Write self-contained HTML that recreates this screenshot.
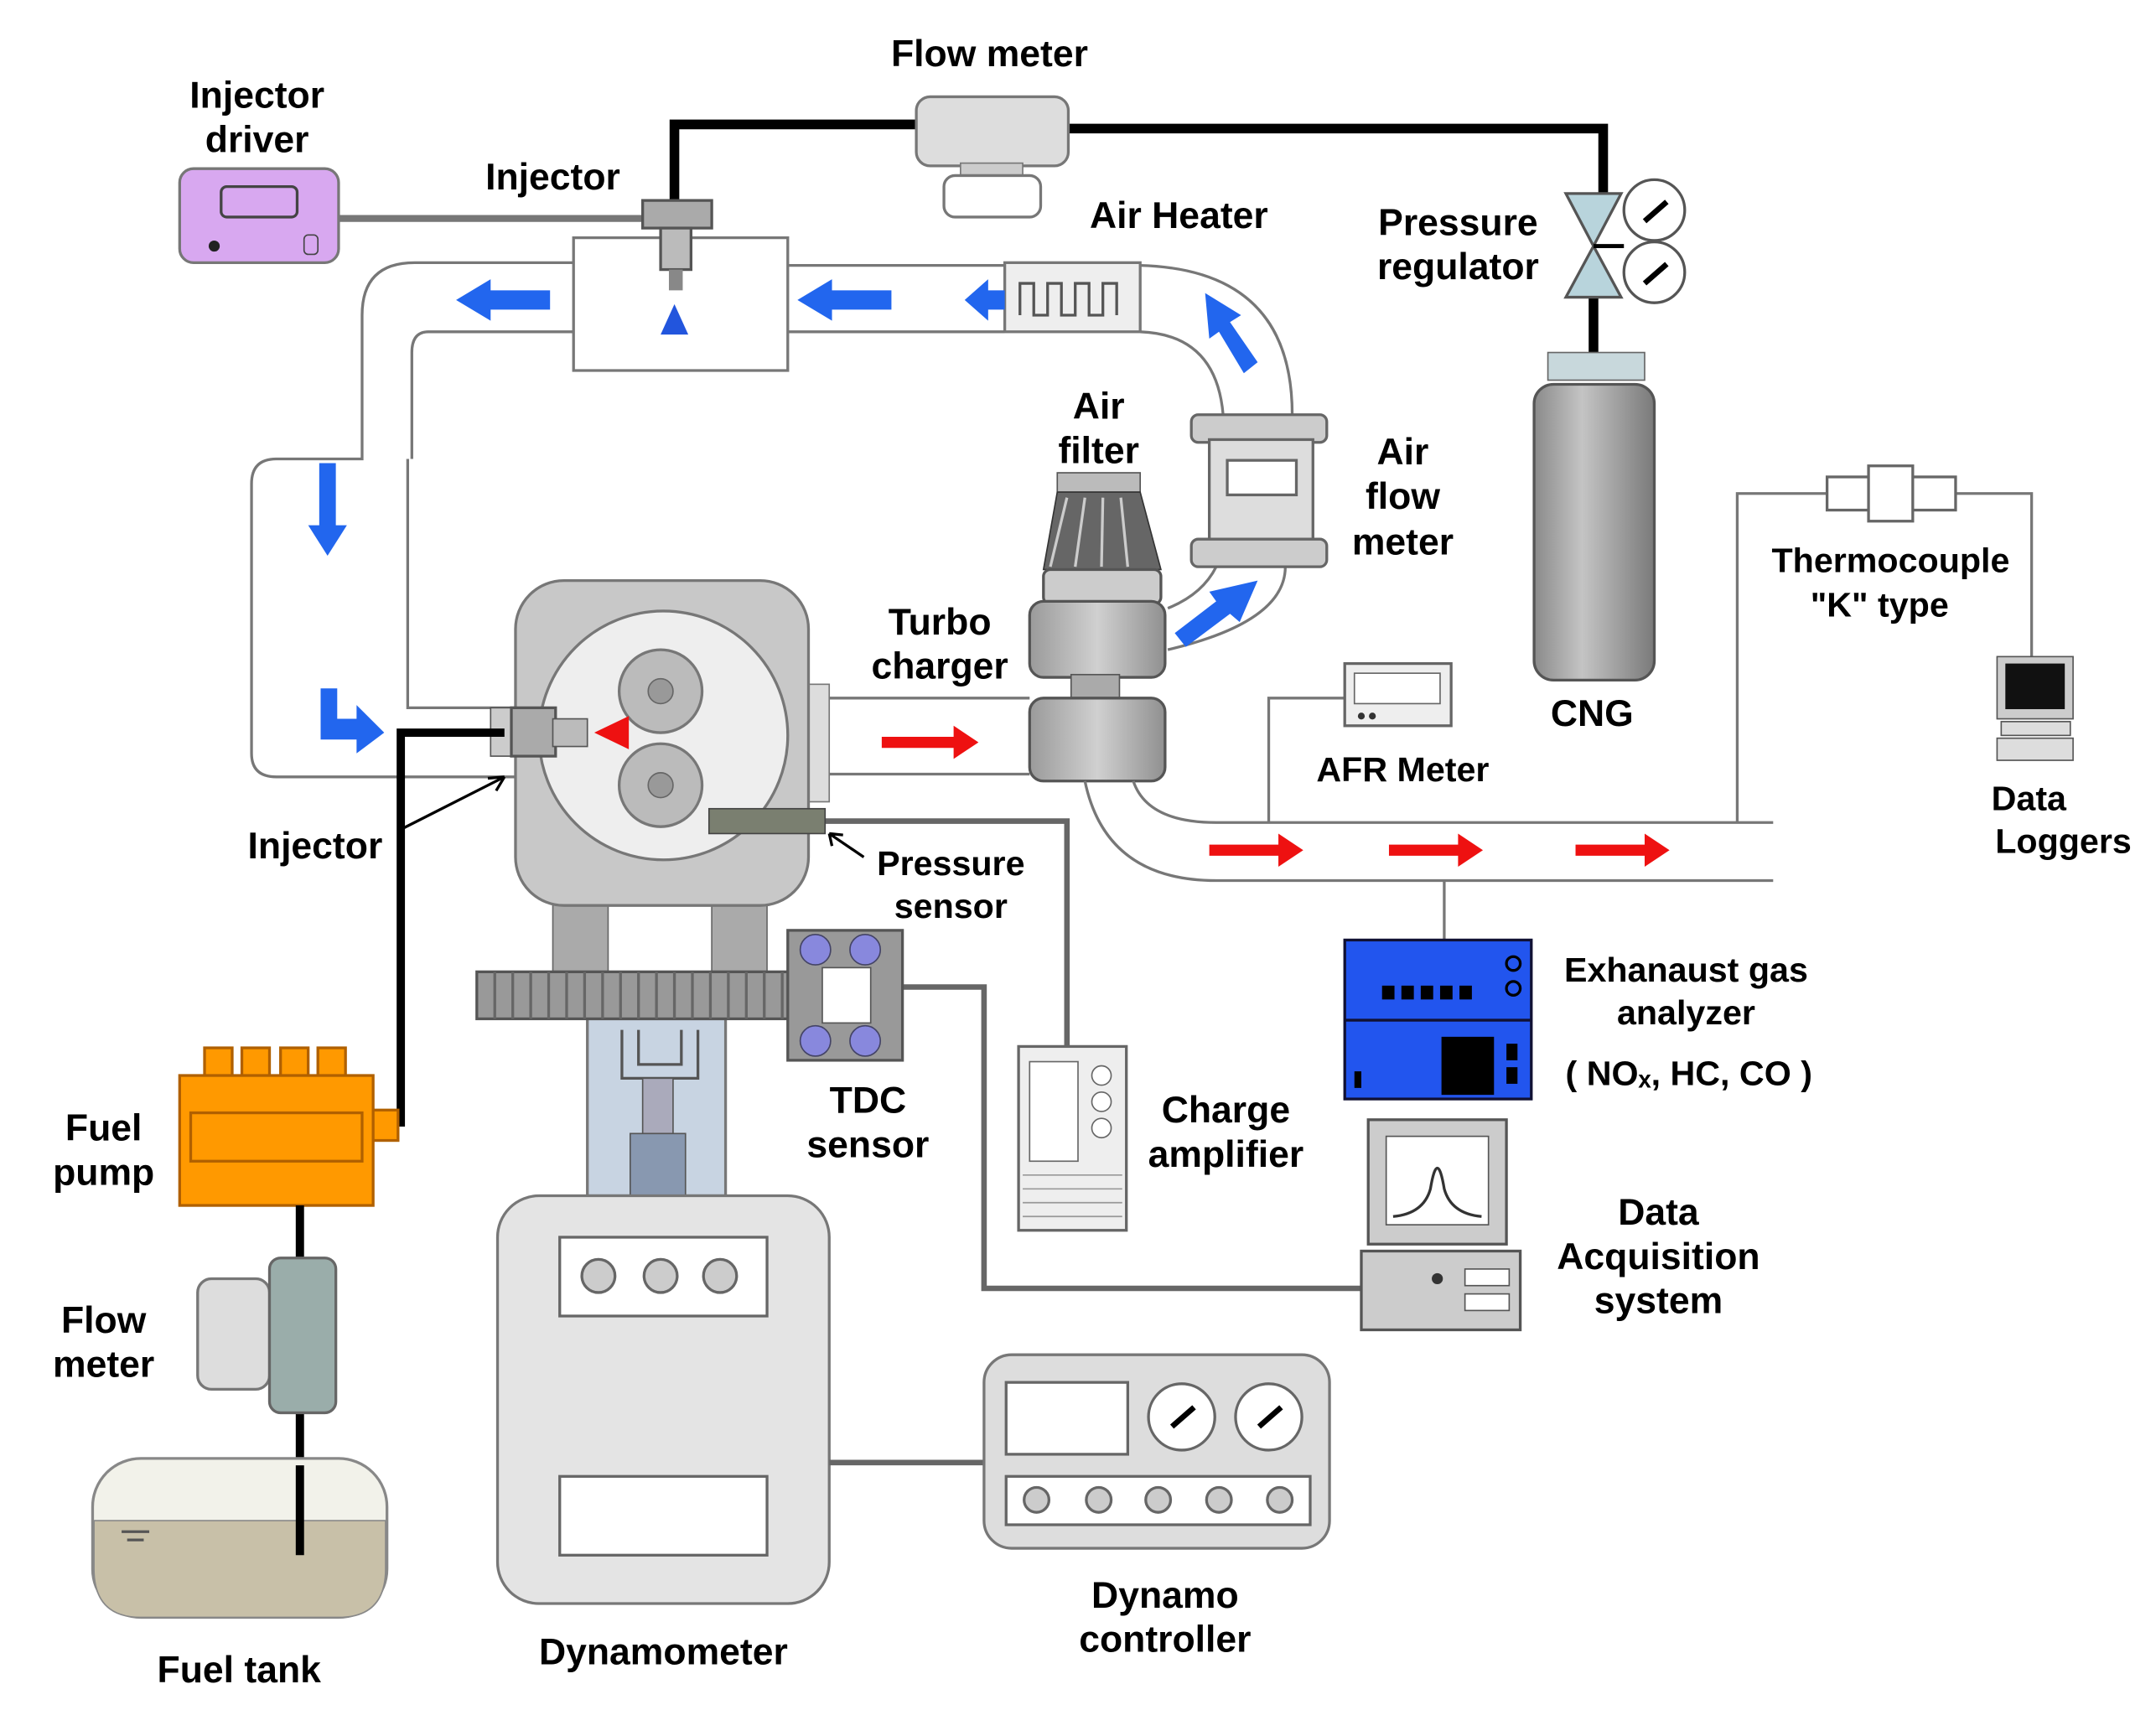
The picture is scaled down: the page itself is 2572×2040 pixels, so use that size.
<!DOCTYPE html>
<html><head><meta charset="utf-8"><style>html,body{margin:0;padding:0;background:#fff}svg{display:block}</style></head>
<body>
<svg width="2572" height="2040" viewBox="0 0 1560 1237" preserveAspectRatio="none" xmlns="http://www.w3.org/2000/svg" font-family="Liberation Sans, sans-serif" font-weight="bold" font-size="27" text-anchor="middle">
<defs>
<linearGradient id="cyl" x1="0" x2="1"><stop offset="0" stop-color="#8a8a8a"/><stop offset="0.4" stop-color="#c4c4c4"/><stop offset="1" stop-color="#7a7a7a"/></linearGradient>
<linearGradient id="gr" x1="0" x2="1"><stop offset="0" stop-color="#9a9a9a"/><stop offset="0.5" stop-color="#d0d0d0"/><stop offset="1" stop-color="#909090"/></linearGradient>
</defs>
<rect width="1560" height="1237" fill="#fff"/>
<path d="M488 145 V90 H663 M773 93 H1160 V140 M1153 215 V262" stroke="#000" stroke-width="7" fill="none"/>
<rect x="663" y="70" width="110" height="50" rx="10" fill="#ddd" stroke="#777" stroke-width="2"/>
<rect x="695" y="118" width="45" height="10" fill="#ccc" stroke="#777"/>
<rect x="683" y="127" width="70" height="30" rx="8" fill="#fff" stroke="#777" stroke-width="2"/>
<text x="716" y="48">Flow meter</text>
<path d="M1133 140 L1173 140 L1153 178 Z M1133 215 L1173 215 L1153 178 Z" fill="#b8d4dc" stroke="#555" stroke-width="2"/>
<circle cx="1197" cy="152" r="22" fill="#fff" stroke="#555" stroke-width="2"/>
<circle cx="1197" cy="197" r="22" fill="#fff" stroke="#555" stroke-width="2"/>
<path d="M1190 160 L1206 146 M1190 205 L1206 191" stroke="#000" stroke-width="4"/>
<path d="M1153 178 H1175" stroke="#000" stroke-width="3"/>
<text x="1055" y="170">Pressure</text><text x="1055" y="202">regulator</text>
<rect x="1120" y="255" width="70" height="20" fill="#c8d8dc" stroke="#666"/>
<rect x="1110" y="278" width="87" height="214" rx="14" fill="url(#cyl)" stroke="#555" stroke-width="2"/>
<text x="1152" y="525">CNG</text>
<line x1="245" y1="158" x2="470" y2="158" stroke="#777" stroke-width="5"/>
<rect x="130" y="122" width="115" height="68" rx="10" fill="#d8a8f0" stroke="#777" stroke-width="2"/>
<rect x="160" y="135" width="55" height="22" rx="4" fill="none" stroke="#444" stroke-width="2"/>
<circle cx="155" cy="178" r="4" fill="#222"/><rect x="220" y="170" width="10" height="14" rx="3" fill="none" stroke="#444"/>
<text x="186" y="78">Injector</text><text x="186" y="110">driver</text>
<path d="M415 190 H300 Q262 190 262 228 V332 H200 Q182 332 182 350 V545 Q182 562 200 562 H373 M415 240 H310 Q298 240 298 255 V332 M295 332 Q295 332 295 345 V512 H373" stroke="#777" stroke-width="2" fill="none"/>
<path d="M415 172 H570 V268 H415 Z" fill="#fff" stroke="#777" stroke-width="2"/>
<path d="M570 192 H727 M570 240 H727 M825 192 Q935 195 935 300 M825 240 Q880 242 885 300 M930 410 Q930 450 845 470 M880 410 Q870 430 845 440" stroke="#777" stroke-width="2" fill="none"/>
<rect x="465" y="145" width="50" height="20" fill="#aaa" stroke="#555" stroke-width="2"/>
<rect x="478" y="165" width="22" height="30" fill="#bbb" stroke="#555" stroke-width="2"/>
<path d="M484 195 h10 v15 h-10z" fill="#888"/>
<path d="M478 242 L488 220 L498 242 Z" fill="#2255dd"/>
<text x="400" y="137">Injector</text>
<rect x="727" y="190" width="98" height="50" fill="#eee" stroke="#777" stroke-width="2"/>
<path d="M738 228 V205 h10 v23 h10 v-23 h10 v23 h10 v-23 h10 v23 h10 v-23 h10 v23" stroke="#555" stroke-width="2" fill="none"/>
<text x="853" y="165">Air Heater</text>
<g fill="#2266ee">
<path d="M398 210 H355 V202 L330 217 L355 232 V224 H398Z"/>
<path d="M645 210 H602 V202 L577 217 L602 232 V224 H645Z"/>
<path d="M727 210 H715 V202 L698 217 L715 232 V224 H727Z"/>
<path d="M900 270 L882 240 L875 245 L872 212 L898 228 L890 233 L910 262Z"/>
<path d="M231 335 H243 V380 H251 L237 402 L223 380 H231Z"/>
<path d="M232 498 H244 V520 H258 V510 L278 530 L258 545 V535 H232Z"/>
<path d="M850 458 L880 435 L875 428 L910 420 L897 450 L890 444 L858 468Z"/>
</g>
<rect x="765" y="342" width="60" height="14" fill="#bbb" stroke="#555"/>
<path d="M765 356 L825 356 L840 412 L755 412 Z" fill="#666" stroke="#333"/>
<path d="M772 360 L760 410 M785 360 L778 410 M798 360 L797 410 M811 360 L816 410" stroke="#ccc" stroke-width="2"/>
<rect x="755" y="412" width="85" height="25" rx="5" fill="#ccc" stroke="#555" stroke-width="2"/>
<text x="795" y="303">Air</text><text x="795" y="335">filter</text>
<rect x="862" y="300" width="98" height="20" rx="5" fill="#ccc" stroke="#666" stroke-width="2"/>
<rect x="875" y="318" width="75" height="75" fill="#ddd" stroke="#666" stroke-width="2"/>
<rect x="888" y="333" width="50" height="25" fill="#fff" stroke="#666" stroke-width="2"/>
<rect x="862" y="390" width="98" height="20" rx="5" fill="#ccc" stroke="#666" stroke-width="2"/>
<text x="1015" y="336">Air</text><text x="1015" y="368">flow</text><text x="1015" y="401">meter</text>
<rect x="745" y="435" width="98" height="55" rx="10" fill="url(#gr)" stroke="#555" stroke-width="2"/>
<rect x="775" y="488" width="35" height="20" fill="#aaa" stroke="#555"/>
<rect x="745" y="505" width="98" height="60" rx="10" fill="url(#gr)" stroke="#555" stroke-width="2"/>
<text x="680" y="459">Turbo</text><text x="680" y="491">charger</text>
<path d="M600 505 H745 M600 560 H745 M820 565 Q830 595 880 595 H1283 M785 565 Q800 637 880 637 H1283" stroke="#777" stroke-width="2" fill="none"/>
<g fill="#ee1111">
<path d="M638 533 H690 V525 L708 537 L690 549 V541 H638Z"/>
<path d="M875 611 H925 V603 L943 615 L925 627 V619 H875Z"/>
<path d="M1005 611 H1055 V603 L1073 615 L1055 627 V619 H1005Z"/>
<path d="M1140 611 H1190 V603 L1208 615 L1190 627 V619 H1140Z"/>
</g>
<path d="M918 595 V505 H973" stroke="#777" stroke-width="2" fill="none"/>
<rect x="973" y="480" width="77" height="45" fill="#eee" stroke="#666" stroke-width="2"/>
<rect x="980" y="487" width="62" height="22" fill="#fff" stroke="#666"/>
<circle cx="985" cy="518" r="2.5" fill="#333"/><circle cx="993" cy="518" r="2.5" fill="#333"/>
<text x="1015" y="565" font-size="25">AFR Meter</text>
<path d="M1257 595 V357 H1322 M1415 357 H1470 V475" stroke="#777" stroke-width="2" fill="none"/>
<rect x="1322" y="345" width="93" height="24" fill="#fff" stroke="#666" stroke-width="2"/>
<rect x="1352" y="337" width="32" height="40" fill="#fff" stroke="#666" stroke-width="2"/>
<text x="1368" y="414" font-size="25">Thermocouple</text><text x="1360" y="446" font-size="25">"K" type</text>
<rect x="1445" y="475" width="55" height="45" fill="#ccc" stroke="#555"/>
<rect x="1451" y="480" width="43" height="33" fill="#111"/>
<rect x="1448" y="522" width="50" height="10" fill="#ddd" stroke="#555"/>
<rect x="1445" y="534" width="55" height="16" fill="#ddd" stroke="#555"/>
<text x="1468" y="586" font-size="25">Data</text><text x="1493" y="617" font-size="25">Loggers</text>
<path d="M1045 637 V680" stroke="#777" stroke-width="2"/>
<rect x="973" y="680" width="135" height="115" fill="#2255ee" stroke="#113" stroke-width="2"/>
<line x1="973" y1="738" x2="1108" y2="738" stroke="#113" stroke-width="2"/>
<g fill="#000"><rect x="1000" y="713" width="9" height="10"/><rect x="1014" y="713" width="9" height="10"/><rect x="1028" y="713" width="9" height="10"/><rect x="1042" y="713" width="9" height="10"/><rect x="1056" y="713" width="9" height="10"/>
<rect x="1043" y="750" width="38" height="42"/><rect x="1090" y="755" width="8" height="12"/><rect x="1090" y="772" width="8" height="12"/><rect x="980" y="775" width="5" height="12"/></g>
<circle cx="1095" cy="697" r="5" fill="none" stroke="#000" stroke-width="2"/><circle cx="1095" cy="715" r="5" fill="none" stroke="#000" stroke-width="2"/>
<text x="1220" y="710" font-size="25">Exhanaust gas</text><text x="1220" y="741" font-size="25">analyzer</text>
<text x="1222" y="785" font-size="25">( NOₓ, HC, CO )</text>
<rect x="355" y="512" width="22" height="35" fill="#ccc" stroke="#555"/>
<rect x="578" y="495" width="22" height="85" fill="#ddd" stroke="#777"/>
<rect x="400" y="650" width="40" height="55" fill="#aaa" stroke="#666"/>
<rect x="515" y="650" width="40" height="55" fill="#aaa" stroke="#666"/>
<rect x="373" y="420" width="212" height="235" rx="35" fill="#c8c8c8" stroke="#777" stroke-width="2"/>
<circle cx="480" cy="532" r="90" fill="#eee" stroke="#777" stroke-width="2"/>
<circle cx="478" cy="500" r="30" fill="#bbb" stroke="#777" stroke-width="2"/><circle cx="478" cy="500" r="9" fill="#999" stroke="#666"/>
<circle cx="478" cy="568" r="30" fill="#bbb" stroke="#777" stroke-width="2"/><circle cx="478" cy="568" r="9" fill="#999" stroke="#666"/>
<rect x="370" y="512" width="32" height="35" fill="#aaa" stroke="#555" stroke-width="2"/>
<rect x="400" y="520" width="25" height="20" fill="#bbb" stroke="#555"/>
<path d="M430 530 L455 518 L455 542 Z" fill="#ee1111"/>
<path d="M597 594 H772 V757" stroke="#666" stroke-width="4" fill="none"/>
<rect x="513" y="585" width="84" height="18" fill="#7a7f70" stroke="#444"/>
<path d="M625 620 L600 603 M600 603 l10 1 M600 603 l2 9" stroke="#000" stroke-width="2"/>
<text x="688" y="633" font-size="25">Pressure</text><text x="688" y="664" font-size="25">sensor</text>
<rect x="737" y="757" width="78" height="133" fill="#eee" stroke="#666" stroke-width="2"/>
<rect x="745" y="768" width="35" height="72" fill="#fff" stroke="#666"/>
<circle cx="797" cy="778" r="7" fill="#fff" stroke="#666"/><circle cx="797" cy="797" r="7" fill="#fff" stroke="#666"/><circle cx="797" cy="816" r="7" fill="#fff" stroke="#666"/>
<path d="M740 850 H812 M740 860 H812 M740 870 H812 M740 880 H812" stroke="#999"/>
<text x="887" y="812">Charge</text><text x="887" y="844">amplifier</text>
<path d="M290 815 V530 H365" stroke="#000" stroke-width="6" fill="none"/>
<path d="M290 600 L365 562 M365 562 l-12 1 M365 562 l-6 10" stroke="#000" stroke-width="2"/>
<text x="228" y="621">Injector</text>
<path d="M653 714 H712 V932 H990" stroke="#666" stroke-width="4" fill="none"/>
<rect x="425" y="737" width="100" height="128" fill="#c8d4e2" stroke="#777" stroke-width="2"/>
<path d="M450 745 V780 H505 V745 M462 745 V770 H493 V745" stroke="#555" stroke-width="2" fill="none"/>
<rect x="465" y="780" width="22" height="40" fill="#aab" stroke="#555"/>
<rect x="456" y="820" width="40" height="45" fill="#8898b0" stroke="#555"/>
<rect x="345" y="703" width="305" height="34" fill="#999" stroke="#555" stroke-width="2"/>
<path d="M358 703 V737 M371 703 V737 M384 703 V737 M397 703 V737 M410 703 V737 M423 703 V737 M436 703 V737 M449 703 V737 M462 703 V737 M475 703 V737 M488 703 V737 M501 703 V737 M514 703 V737 M527 703 V737 M540 703 V737 M553 703 V737 M566 703 V737 M579 703 V737 M592 703 V737" stroke="#666" stroke-width="2"/>
<rect x="570" y="673" width="83" height="94" fill="#999" stroke="#555" stroke-width="2"/>
<rect x="595" y="700" width="35" height="40" fill="#fff" stroke="#555"/>
<g fill="#8888dd" stroke="#446"><circle cx="590" cy="687" r="11"/><circle cx="626" cy="687" r="11"/><circle cx="590" cy="753" r="11"/><circle cx="626" cy="753" r="11"/></g>
<text x="628" y="805">TDC</text><text x="628" y="837">sensor</text>
<rect x="360" y="865" width="240" height="295" rx="30" fill="#e4e4e4" stroke="#777" stroke-width="2"/>
<rect x="405" y="895" width="150" height="57" fill="#fff" stroke="#666" stroke-width="2"/>
<circle cx="433" cy="923" r="12" fill="#ccc" stroke="#666" stroke-width="2"/><circle cx="478" cy="923" r="12" fill="#ccc" stroke="#666" stroke-width="2"/><circle cx="521" cy="923" r="12" fill="#ccc" stroke="#666" stroke-width="2"/>
<rect x="405" y="1068" width="150" height="57" fill="#fff" stroke="#666" stroke-width="2"/>
<text x="480" y="1204">Dynamometer</text>
<line x1="600" y1="1058" x2="712" y2="1058" stroke="#666" stroke-width="4"/>
<rect x="712" y="980" width="250" height="140" rx="20" fill="#ddd" stroke="#777" stroke-width="2"/>
<rect x="728" y="1000" width="88" height="52" fill="#fff" stroke="#666" stroke-width="2"/>
<circle cx="855" cy="1025" r="24" fill="#fff" stroke="#666" stroke-width="2"/><circle cx="918" cy="1025" r="24" fill="#fff" stroke="#666" stroke-width="2"/>
<path d="M848 1032 L864 1018 M911 1032 L927 1018" stroke="#000" stroke-width="4"/>
<rect x="728" y="1068" width="220" height="35" fill="#fff" stroke="#666" stroke-width="2"/>
<g fill="#ccc" stroke="#666" stroke-width="2"><circle cx="750" cy="1085" r="9"/><circle cx="795" cy="1085" r="9"/><circle cx="838" cy="1085" r="9"/><circle cx="882" cy="1085" r="9"/><circle cx="926" cy="1085" r="9"/></g>
<text x="843" y="1163">Dynamo</text><text x="843" y="1195">controller</text>
<rect x="990" y="810" width="100" height="90" fill="#ccc" stroke="#555" stroke-width="2"/>
<rect x="1003" y="822" width="74" height="64" fill="#fff" stroke="#555"/>
<path d="M1008 880 Q1030 878 1035 860 Q1040 830 1045 860 Q1050 878 1072 880" stroke="#333" stroke-width="2" fill="none"/>
<rect x="985" y="905" width="115" height="57" fill="#ccc" stroke="#555" stroke-width="2"/>
<circle cx="1040" cy="925" r="4" fill="#333"/><rect x="1060" y="918" width="32" height="12" fill="#fff" stroke="#555"/><rect x="1060" y="936" width="32" height="12" fill="#fff" stroke="#555"/>
<text x="1200" y="886">Data</text><text x="1200" y="918">Acquisition</text><text x="1200" y="950">system</text>
<g fill="#ff9900" stroke="#b06000" stroke-width="2"><rect x="148" y="758" width="20" height="22"/><rect x="175" y="758" width="20" height="22"/><rect x="203" y="758" width="20" height="22"/><rect x="230" y="758" width="20" height="22"/>
<rect x="130" y="778" width="140" height="94"/><rect x="270" y="803" width="18" height="22"/></g>
<rect x="138" y="805" width="124" height="35" fill="none" stroke="#b06000" stroke-width="2"/>
<text x="75" y="825">Fuel</text><text x="75" y="857">pump</text>
<path d="M217 872 V1125" stroke="#000" stroke-width="6"/>
<rect x="143" y="925" width="52" height="80" rx="10" fill="#ddd" stroke="#777" stroke-width="2"/>
<rect x="195" y="910" width="48" height="112" rx="8" fill="#9aadaa" stroke="#666" stroke-width="2"/>
<text x="75" y="964">Flow</text><text x="75" y="996">meter</text>
<rect x="67" y="1055" width="213" height="115" rx="35" fill="#f2f2ea" stroke="#888" stroke-width="2"/>
<path d="M68 1100 H279 V1135 Q279 1170 245 1170 H102 Q68 1170 68 1135 Z" fill="#c8c0a8" stroke="#888"/>
<path d="M217 1060 V1125" stroke="#000" stroke-width="6"/>
<path d="M88 1108 H108 M92 1114 H104" stroke="#555" stroke-width="2"/>
<text x="173" y="1217">Fuel tank</text>
</svg>
</body></html>
